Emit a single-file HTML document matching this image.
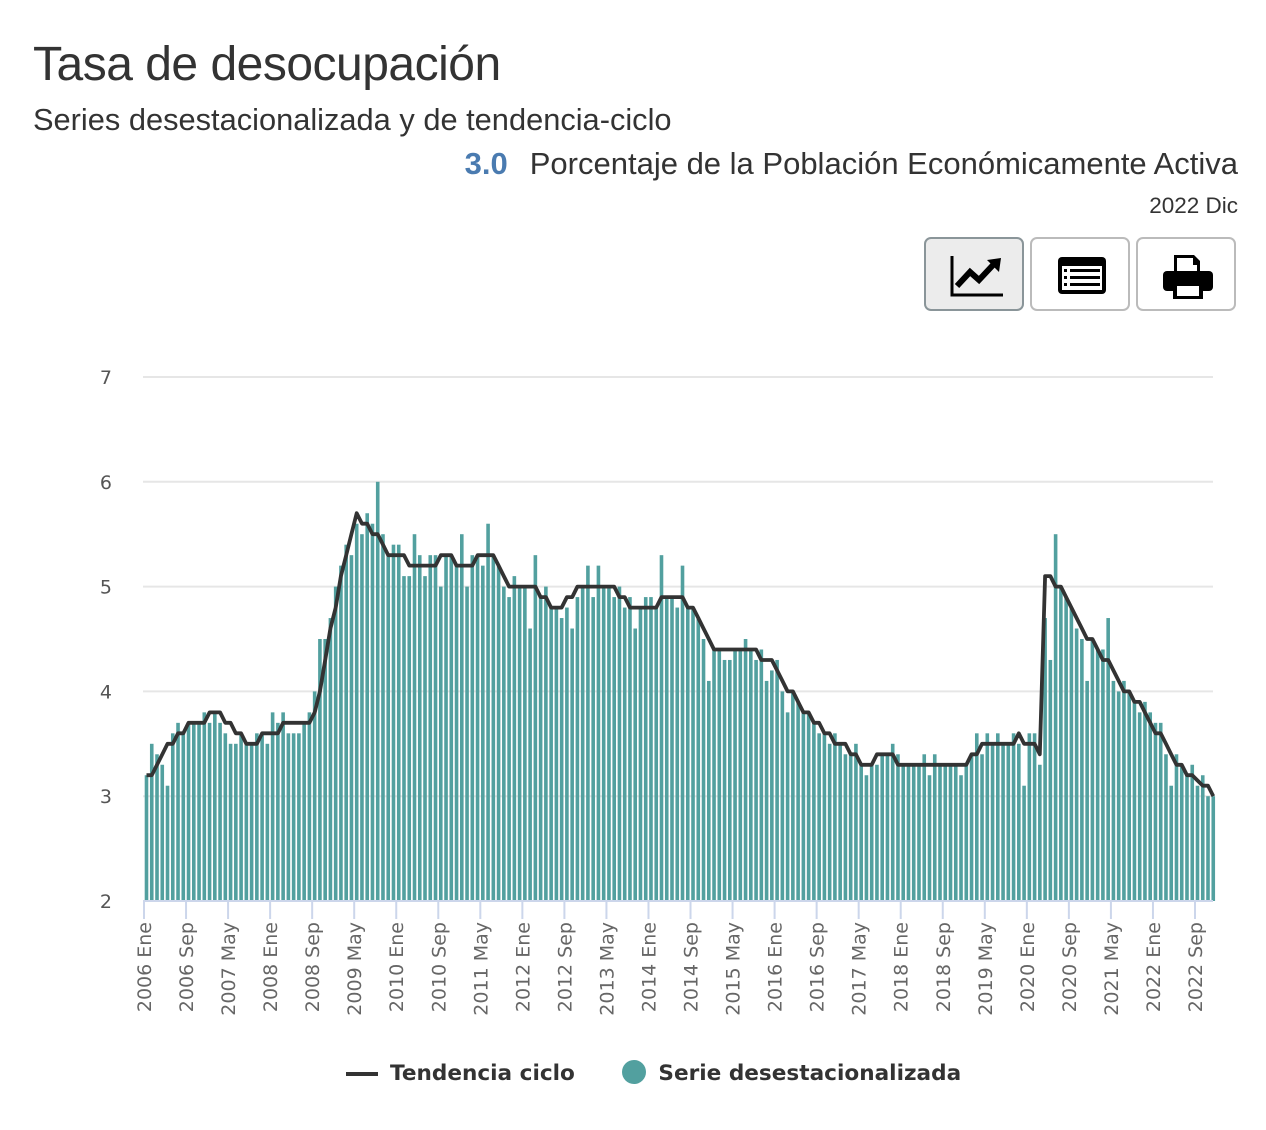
<!DOCTYPE html>
<html><head><meta charset="utf-8">
<style>
body{margin:0;background:#fff;width:1266px;height:1130px;overflow:hidden;font-family:"Liberation Sans",sans-serif;position:relative}
.abs{position:absolute}
.btn{position:absolute;top:237px;width:100px;height:74px;border:2px solid #bbb;border-radius:7px;background:#fff;box-sizing:border-box}
</style></head><body>
<div class="abs" style="left:33px;top:37px;font-size:48px;color:#333;letter-spacing:-0.5px">Tasa de desocupación</div>
<div class="abs" style="left:33px;top:102px;font-size:30.8px;color:#333">Series desestacionalizada y de tendencia-ciclo</div>
<div class="abs" style="right:28px;top:146px;font-size:31px;color:#333;white-space:nowrap"><b style="color:#4a7bb0;margin-right:22px">3.0</b>Porcentaje de la Población Económicamente Activa</div>
<div class="abs" style="right:28px;top:193px;font-size:22.5px;color:#333">2022 Dic</div>
<div class="btn" style="left:924px;background:#ececec;border-color:#8a9599">
<svg width="96" height="70" viewBox="0 0 96 70"><path d="M26 17V56H77" stroke="#000" stroke-width="3" fill="none"/><path d="M31 47L44 33L53 41L68 25" stroke="#000" stroke-width="6" fill="none"/><path d="M61 21L75 19L73 33Z" fill="#000"/></svg></div>
<div class="btn" style="left:1030px">
<svg width="96" height="70" viewBox="0 0 96 70"><rect x="26" y="18" width="48" height="37" rx="4" fill="#000"/><rect x="30" y="27" width="40" height="24" fill="#fff"/><g fill="#000"><rect x="32" y="30" width="3" height="3"/><rect x="38" y="30" width="30" height="3"/><rect x="32" y="37" width="3" height="3"/><rect x="38" y="37" width="30" height="3"/><rect x="32" y="44" width="3" height="3"/><rect x="38" y="44" width="30" height="3"/></g></svg></div>
<div class="btn" style="left:1136px">
<svg width="96" height="70" viewBox="0 0 96 70"><path d="M36 16H56L62 22V34H36Z" fill="#000"/><path d="M39 19H55V26H59V34H39Z" fill="#fff"/><rect x="25" y="32" width="50" height="20" rx="4" fill="#000"/><rect x="35" y="44" width="30" height="16" fill="#000"/><rect x="39" y="47" width="22" height="10" fill="#fff"/></svg></div>
<svg id="chart" class="abs" style="left:0;top:0" width="1266" height="1130"></svg>
<script>
const months=["Ene","Feb","Mar","Abr","May","Jun","Jul","Ago","Sep","Oct","Nov","Dic"];
const yTicks=[2,3,4,5,6,7];
const seasonal=[
3.2,3.5,3.4,3.3,3.1,3.6,3.7,3.6,3.7,3.7,3.7,3.8,
3.7,3.8,3.7,3.6,3.5,3.5,3.6,3.5,3.5,3.6,3.6,3.5,
3.8,3.7,3.8,3.6,3.6,3.6,3.7,3.8,4.0,4.5,4.5,4.7,
5.0,5.2,5.4,5.3,5.6,5.5,5.7,5.6,6.0,5.5,5.3,5.4,
5.4,5.1,5.1,5.5,5.3,5.1,5.3,5.3,5.0,5.3,5.3,5.2,
5.5,5.0,5.3,5.3,5.2,5.6,5.3,5.2,5.0,4.9,5.1,5.0,
5.0,4.6,5.3,4.9,5.0,4.8,4.8,4.7,4.8,4.6,4.9,5.0,
5.2,4.9,5.2,5.0,5.0,4.9,5.0,4.8,4.9,4.6,4.8,4.9,
4.9,4.8,5.3,4.9,4.9,4.8,5.2,4.8,4.8,4.7,4.5,4.1,
4.4,4.4,4.3,4.3,4.4,4.4,4.5,4.4,4.3,4.4,4.1,4.2,
4.3,4.0,3.8,4.0,3.9,3.8,3.8,3.7,3.6,3.6,3.5,3.6,
3.5,3.4,3.4,3.5,3.3,3.2,3.3,3.3,3.4,3.4,3.5,3.4,
3.3,3.3,3.3,3.3,3.4,3.2,3.4,3.3,3.3,3.3,3.3,3.2,
3.3,3.4,3.6,3.4,3.6,3.5,3.6,3.5,3.5,3.6,3.5,3.1,
3.6,3.6,3.3,4.7,4.3,5.5,5.0,4.9,4.8,4.6,4.5,4.1,
4.5,4.4,4.4,4.7,4.1,4.0,4.1,4.0,3.9,3.8,3.9,3.8,
3.7,3.7,3.4,3.1,3.4,3.3,3.2,3.3,3.1,3.2,3.0,3.0];
const trend=[
3.2,3.2,3.3,3.4,3.5,3.5,3.6,3.6,3.7,3.7,3.7,3.7,
3.8,3.8,3.8,3.7,3.7,3.6,3.6,3.5,3.5,3.5,3.6,3.6,
3.6,3.6,3.7,3.7,3.7,3.7,3.7,3.7,3.8,4.0,4.3,4.6,
4.8,5.1,5.3,5.5,5.7,5.6,5.6,5.5,5.5,5.4,5.3,5.3,
5.3,5.3,5.2,5.2,5.2,5.2,5.2,5.2,5.3,5.3,5.3,5.2,
5.2,5.2,5.2,5.3,5.3,5.3,5.3,5.2,5.1,5.0,5.0,5.0,
5.0,5.0,5.0,4.9,4.9,4.8,4.8,4.8,4.9,4.9,5.0,5.0,
5.0,5.0,5.0,5.0,5.0,5.0,4.9,4.9,4.8,4.8,4.8,4.8,
4.8,4.8,4.9,4.9,4.9,4.9,4.9,4.8,4.8,4.7,4.6,4.5,
4.4,4.4,4.4,4.4,4.4,4.4,4.4,4.4,4.4,4.3,4.3,4.3,
4.2,4.1,4.0,4.0,3.9,3.8,3.8,3.7,3.7,3.6,3.6,3.5,
3.5,3.5,3.4,3.4,3.3,3.3,3.3,3.4,3.4,3.4,3.4,3.3,
3.3,3.3,3.3,3.3,3.3,3.3,3.3,3.3,3.3,3.3,3.3,3.3,
3.3,3.4,3.4,3.5,3.5,3.5,3.5,3.5,3.5,3.5,3.6,3.5,
3.5,3.5,3.4,5.1,5.1,5.0,5.0,4.9,4.8,4.7,4.6,4.5,
4.5,4.4,4.3,4.3,4.2,4.1,4.0,4.0,3.9,3.9,3.8,3.7,
3.6,3.6,3.5,3.4,3.3,3.3,3.2,3.2,3.15,3.1,3.1,3.0];
const startYear=2006;
const NS="http://www.w3.org/2000/svg";
const svg=document.getElementById('chart');
const X0=145,DX=5.255,Y0=901,YU=104.8;
function xs(i){return X0+i*DX;}
function ys(v){return Y0-(v-2)*YU;}
function mk(t,a,p){const e=document.createElementNS(NS,t);for(const k in a)e.setAttribute(k,a[k]);(p||svg).appendChild(e);return e;}
const grid=mk('g',{});


yTicks.forEach(v=>{
 if(v>2){const l=mk('line',{x1:143,x2:1213,y1:ys(v),y2:ys(v),stroke:'#e6e6e6','stroke-width':2},grid);
 
 }
 const t=mk('text',{x:112,y:ys(v)+7,'text-anchor':'end','font-size':19,fill:'#555','font-family':'DejaVu Sans, sans-serif'});
 t.textContent=v;
 
 
});
const bars=mk('g',{fill:'#52a09f'});


seasonal.forEach((v,i)=>{
 const r=mk('rect',{x:xs(i)-0.3,y:ys(v),width:3.6,height:Y0-ys(v)},bars);
 
 
});
mk('line',{x1:143,x2:1213,y1:901,y2:901,stroke:'#ccd6eb','stroke-width':2});
const xl=mk('g',{});


for(let i=0;i<seasonal.length;i+=8){
 const x=xs(i)-1;
 mk('line',{x1:x,x2:x,y1:901,y2:919,stroke:'#ccd6eb','stroke-width':2},xl);
 const lab=(startYear+Math.floor(i/12))+' '+months[i%12];
 const t=mk('text',{x:0,y:0,transform:`translate(${x+7},922) rotate(-90)`,'text-anchor':'end','font-size':19,fill:'#666','font-family':'DejaVu Sans, sans-serif'},xl);
 t.textContent=lab;
 
 
}
let d='';trend.forEach((v,i)=>{d+=(i?'L':'M')+(xs(i)+1.5).toFixed(1)+' '+ys(v).toFixed(1);});
const line=mk('path',{d:d,stroke:'#333',fill:'none','stroke-width':3.8,'stroke-linejoin':'round'});


</script>
<div class="abs" style="left:346px;top:1060px;font-family:'DejaVu Sans',sans-serif;font-weight:bold;font-size:21.6px;color:#333;white-space:nowrap">
<span><span style="display:inline-block;width:32px;height:4px;background:#333;vertical-align:middle;margin-right:12px"></span>Tendencia ciclo</span>
<span style="margin-left:40px"><span style="display:inline-block;width:24px;height:24px;border-radius:50%;background:#52a09f;vertical-align:-4px;margin-right:12px"></span>Serie desestacionalizada</span>
</div>
</body></html>
